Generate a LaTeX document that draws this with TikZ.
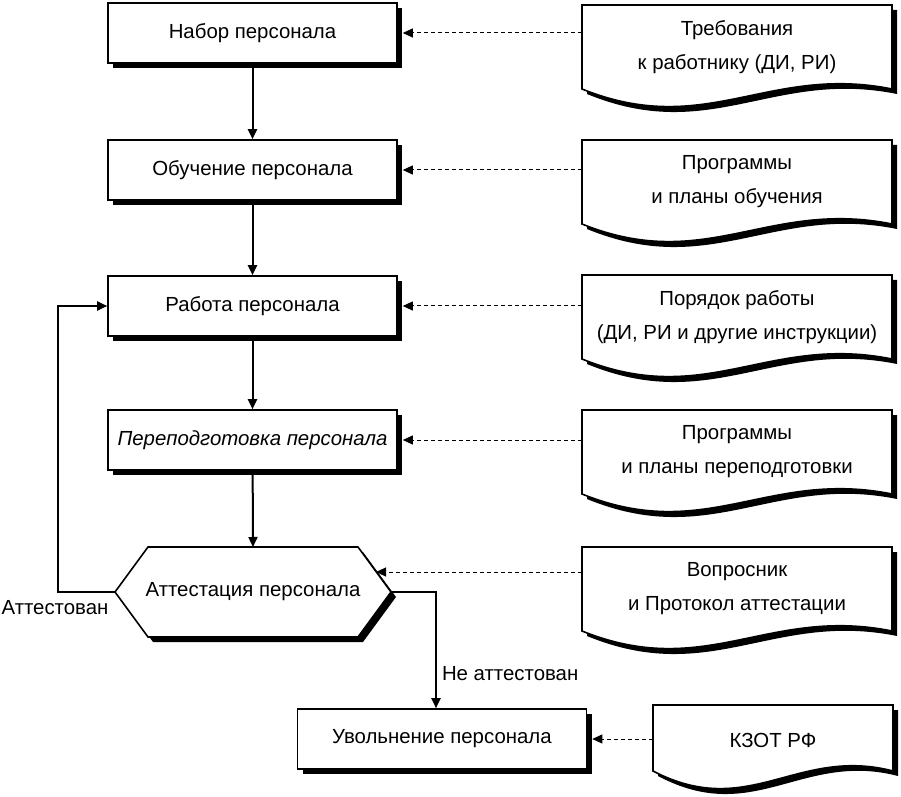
\documentclass[tikz,border=0pt]{standalone}
\usepackage{fontspec}
\setmainfont{Liberation Sans}
\usetikzlibrary{arrows.meta,shadows}

% document sheet with a wavy lower edge: left, top, width, height
\newcommand{\docshape}[4]{%
  \begin{scope}[shift={(#1,#2)}]
    \fill[black] (5,5) -- (#3+5,5) -- (#3+5,#4+5) .. controls (0.6*#3+5,#4-20) and (0.4*#3+5,#4+56) .. (5,#4+5) -- cycle;
    \draw[line width=0.8pt, fill=white] (0,0) -- (#3,0) -- (#3,#4) .. controls (0.6*#3,#4-25) and (0.4*#3,#4+50) .. (0,#4) -- cycle;
  \end{scope}}

\begin{document}
\begin{tikzpicture}[x=0.5pt, y=-0.5pt, font=\fontsize{10.2pt}{17pt}\selectfont,
  stage/.style={draw, line width=0.8pt, fill=white, minimum width=144.5pt, minimum height=30pt, inner sep=2pt,
    drop shadow={shadow xshift=2.5pt, shadow yshift=-2.5pt, fill=black, opacity=1}},
  docnote/.style={minimum width=155pt, align=center, inner sep=0pt},
  solidarr/.style={-{Triangle[length=5pt,width=4.5pt]}, line width=1pt},
  dasharr/.style={-{Triangle[length=5pt,width=4.5pt]}, line width=0.5pt, dash pattern=on 2pt off 1.5pt}]
	\useasboundingbox (0,0) rectangle (901,797);
	% documents on the right
	\foreach \dy in {5,140,275,410,547} {\docshape{582}{\dy}{310}{84}}
	\docshape{653}{705}{240}{66}
	\node[docnote] (req) at (737,47) {Требования\\к работнику (ДИ, РИ)};
	\node[docnote] (progs) at (737,182) {Программы\\и планы обучения};
	\node[docnote] (order) at (737,317) {Порядок работы\\(ДИ, РИ и другие инструкции)};
	\node[docnote] (reprogs) at (737,452) {Программы\\и планы переподготовки};
	\node[docnote] (quest) at (737,589) {Вопросник\\и Протокол аттестации};
	\node[docnote, minimum width=120pt] (law) at (773,740) {КЗОТ РФ};
	% stages
	\node[stage] (recruit) at (252.5,33) {Набор персонала};
	\node[stage] (train) at (252.5,170) {Обучение персонала};
	\node[stage] (work) at (252.5,306) {Работа персонала};
	\node[stage] (retrain) at (252.5,440) {\itshape Переподготовка персонала};
	\node[stage] (dismiss) at (442,739) {Увольнение персонала};
	% attestation hexagon
	\fill[black] (120,597) -- (153,552) -- (363,552) -- (396,597) -- (363,642) -- (153,642) -- cycle;
	\draw[line width=0.8pt, fill=white] (115,592) -- (148,547) -- (358,547) -- (391,592) -- (358,637) -- (148,637) -- cycle;
	\node (attest) at (253,592) {Аттестация персонала};
	\coordinate (atttop) at (253,547);
	\coordinate (attleft) at (115,592);
	\coordinate (attright) at (391,592);
	\coordinate (attdoc) at (376,572);
	% flow
	\draw[solidarr] (recruit) -- (train);
	\draw[solidarr] (train) -- (work);
	\draw[solidarr] (work) -- (retrain);
	\draw[solidarr] (retrain) -- (atttop);
	\draw[solidarr] (attleft) -- ++(-57,0) |- (work.west);
	\node (passed) at (55,608) {Аттестован};
	\draw[solidarr] (attright) -| node[pos=0.85, right, inner sep=2.5pt] (failed) {Не аттестован} ([xshift=-3pt]dismiss.north);
	% documents feeding the stages
	\draw[dasharr] (recruit.east -| req.west) -- ([xshift=2.5pt]recruit.east);
	\draw[dasharr] (train.east -| progs.west) -- ([xshift=2.5pt]train.east);
	\draw[dasharr] (work.east -| order.west) -- ([xshift=2.5pt]work.east);
	\draw[dasharr] (retrain.east -| reprogs.west) -- ([xshift=2.5pt]retrain.east);
	\draw[dasharr] (attdoc -| quest.west) -- (attdoc);
	\draw[dasharr] (dismiss.east -| law.west) -- ([xshift=2.5pt]dismiss.east);
\end{tikzpicture}
\end{document}
